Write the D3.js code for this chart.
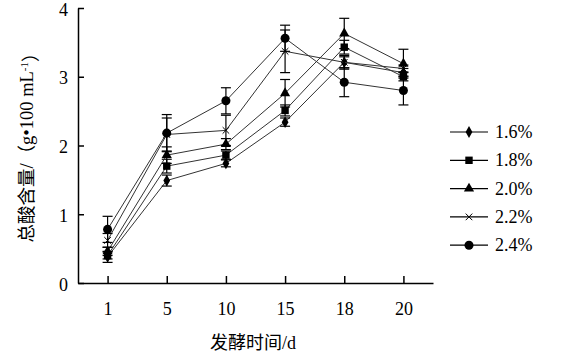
<!DOCTYPE html>
<html lang="zh">
<head>
  <meta charset="UTF-8">
  <title>总酸含量</title>
  <script src="https://d3js.org/d3.v7.min.js"></script>
  <style>
    body { margin: 0; background: #fff; }
    svg { font-family: 'Liberation Serif', 'Noto Sans CJK SC', serif; }
    .axis path, .axis line { stroke: #000; stroke-width: 1.5; }
    .axis text { font-size: 18px; fill: #000; font-family: 'Liberation Serif', serif; }
    .series-line { fill: none; stroke: #333; stroke-width: 1; }
    .err { stroke: #000; stroke-width: 1.2; }
  </style>
</head>
<body>
  <svg width="561" height="353"></svg>

  <script>
    // data
    const days = ["1", "5", "10", "15", "18", "20"];
    const seriesNames = ["1.6%", "1.8%", "2.0%", "2.2%", "2.4%"];
    const s16 = [0.38, 1.49, 1.74, 2.34, 3.21, 3.06];
    const s18 = [0.40, 1.70, 1.86, 2.51, 3.43, 3.00];
    const s20 = [0.46, 1.86, 2.02, 2.76, 3.63, 3.19];
    const s22 = [0.62, 2.16, 2.22, 3.37, 3.21, 3.12];
    const s24 = [0.78, 2.18, 2.65, 3.56, 2.92, 2.80];
    const e16 = [0.08, 0.08, 0.05, 0.06, 0.08, 0.06];
    const e18 = [0.05, 0.10, 0.06, 0.08, 0.10, 0.06];
    const e20 = [0.06, 0.12, 0.08, 0.20, 0.22, 0.21];
    const e22 = [0.10, 0.24, 0.22, 0.31, 0.10, 0.05];
    const e24 = [0.19, 0.27, 0.19, 0.19, 0.21, 0.21];
    const yTicks = [0, 1, 2, 3, 4];

    const symbols = [d3.symbolDiamond, d3.symbolSquare, d3.symbolTriangle, d3.symbolTimes, d3.symbolCircle];
    const symSizes = [40, 55, 45, 30, 64];

    const series = seriesNames.map((name, i) => ({
      name: name,
      values: [s16, s18, s20, s22, s24][i],
      errs: [e16, e18, e20, e22, e24][i],
      symbol: symbols[i],
      size: symSizes[i]
    }));

    const svg = d3.select("svg");
    const plotLeft = 78, plotRight = 433, plotTop = 8, plotBottom = 283;

    const x = d3.scalePoint().domain(days).range([plotLeft, plotRight]).padding(0.5);
    const y = d3.scaleLinear().domain([0, 4]).range([plotBottom, plotTop]);

    // axes
    svg.append("g")
      .attr("class", "axis")
      .attr("transform", `translate(0,${plotBottom})`)
      .call(d3.axisBottom(x).tickSizeInner(-7).tickSizeOuter(0).tickPadding(19));

    svg.append("g")
      .attr("class", "axis")
      .attr("transform", `translate(${plotLeft},0)`)
      .call(d3.axisLeft(y).tickValues(yTicks).tickFormat(d3.format("d"))
        .tickSizeInner(-6).tickSizeOuter(0).tickPadding(10))
      .selectAll("text")
      .attr("dy", "0.4em");

    // axis titles
    svg.append("text")
      .attr("x", 253)
      .attr("y", 349)
      .attr("text-anchor", "middle")
      .style("font-size", "18px")
      .text("发酵时间/d");

    const yl = svg.append("text")
      .attr("transform", "translate(33,143) rotate(-90)")
      .attr("text-anchor", "middle")
      .style("font-size", "18.5px");
    yl.append("tspan").text("总酸含量/（g•100 mL");
    yl.append("tspan").attr("dy", "-0.5em").style("font-size", "11px").text("-1");
    yl.append("tspan").attr("dy", "0.5em").text("）");

    const line = d3.line()
      .x((d, i) => x(days[i]))
      .y(d => y(d));

    series.forEach(s => {
      svg.append("path")
        .attr("class", "series-line")
        .attr("d", line(s.values));

      // error bars
      const eg = svg.append("g");
      s.values.forEach((v, i) => {
        const cx = x(days[i]);
        eg.append("line").attr("class", "err")
          .attr("x1", cx).attr("x2", cx)
          .attr("y1", y(v - s.errs[i])).attr("y2", y(v + s.errs[i]));
        [v - s.errs[i], v + s.errs[i]].forEach(ev => {
          eg.append("line").attr("class", "err")
            .attr("x1", cx - 5).attr("x2", cx + 5)
            .attr("y1", y(ev)).attr("y2", y(ev));
        });
      });

      svg.append("g").selectAll("path")
        .data(s.values)
        .join("path")
        .attr("transform", (d, i) => `translate(${x(days[i])},${y(d)})`)
        .attr("d", d3.symbol().type(s.symbol).size(s.size))
        .attr("fill", "#000")
        .attr("stroke", s.symbol === d3.symbolTimes ? "#000" : "none")
        .attr("stroke-width", 1);
    });

    // legend
    const legend = svg.append("g");
    series.forEach((s, i) => {
      const ly = 132 + i * 28.3;
      legend.append("line")
        .attr("x1", 450).attr("x2", 488)
        .attr("y1", ly).attr("y2", ly)
        .attr("stroke", "#000").attr("stroke-width", 1.2);
      legend.append("path")
        .attr("transform", `translate(469,${ly})`)
        .attr("d", d3.symbol().type(s.symbol).size(s.size))
        .attr("fill", "#000")
        .attr("stroke", s.symbol === d3.symbolTimes ? "#000" : "none");
      legend.append("text")
        .attr("x", 495)
        .attr("y", ly + 6)
        .style("font-size", "18px")
        .text(s.name);
    });
  </script>
</body>
</html>
